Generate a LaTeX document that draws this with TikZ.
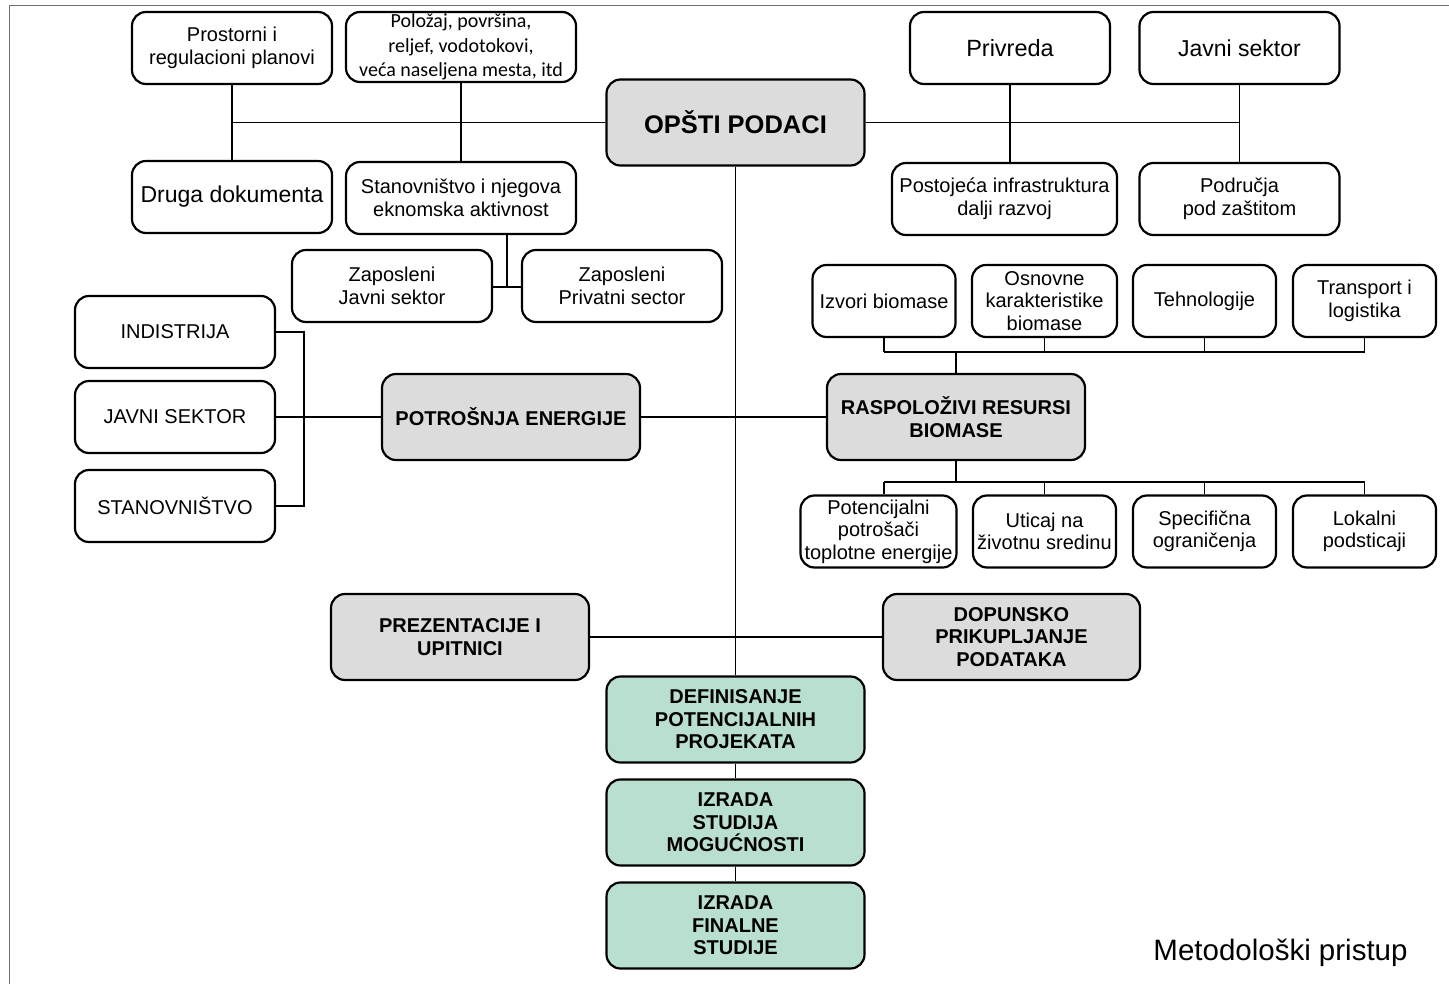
\documentclass[tikz,border=0pt]{standalone}
\usepackage{fontspec}
\setmainfont{Liberation Sans}
\newfontfamily\calibri{Carlito}
\definecolor{sivo}{HTML}{DCDCDC}
\definecolor{zeleno}{HTML}{B9E0CE}
\definecolor{ram}{HTML}{707070}
\tikzset{
  okvir/.style={draw, line width=2.2pt, rounded corners=14pt, align=center,
    inner sep=0pt, minimum width=200pt, minimum height=72pt,
    font=\fontsize{20}{23.5}\selectfont},
  glavni/.style={okvir, fill=sivo, minimum width=258pt, minimum height=86pt,
    font=\bfseries\fontsize{20}{22.5}\selectfont},
  faza/.style={glavni, fill=zeleno},
  malo/.style={okvir, minimum width=143pt, font=\fontsize{20}{22.5}\selectfont},
  veza/.style={line width=1.6pt}
}
\begin{document}
\begin{tikzpicture}[x=1pt,y=-1pt]
\useasboundingbox (0,0) rectangle (1449,985);
\draw[ram, line width=1.5pt] (9.5,984) -- (9.5,5.5) -- (1449,5.5);

% opsti podaci
\node[glavni, font=\bfseries\fontsize{25.5}{28}\selectfont] (opsti) at (735.5,122.5) {OPŠTI PODACI};
\node[okvir] (prostorni) at (232,48) {Prostorni i\\regulacioni planovi};
\node[okvir, minimum width=230pt, minimum height=70pt, font=\calibri\fontsize{20}{24.5}\selectfont] (polozaj) at (461,47) {Položaj, površina,\\reljef, vodotokovi,\\veća naseljena mesta, itd};
\node[okvir, font=\fontsize{23.5}{26}\selectfont] (privreda) at (1010,48) {Privreda};
\node[okvir, font=\fontsize{23}{26}\selectfont] (javni) at (1239.5,48) {Javni sektor};
\node[okvir, font=\fontsize{23}{26}\selectfont] (druga) at (232,197) {Druga dokumenta};
\node[okvir, minimum width=230pt, font=\fontsize{20}{23}\selectfont] (stanovnistvo) at (461,198) {Stanovništvo i njegova\\eknomska aktivnost};
\node[okvir, minimum width=225pt, font=\fontsize{20}{23}\selectfont] (infra) at (1004.5,199) {Postojeća infrastruktura\\dalji razvoj};
\node[okvir, font=\fontsize{20}{23}\selectfont] (zastita) at (1239.5,199) {Područja\\pod zaštitom};

\draw[veza] (prostorni) -- (druga);
\draw[veza] (polozaj) -- (stanovnistvo);
\draw[veza] (privreda) -- (privreda |- infra.north);
\draw[veza] (javni) -- (zastita);
\draw[veza] (prostorni |- opsti) -- (opsti);
\draw[veza] (opsti) -- (javni |- opsti);

% zaposleni
\node[okvir] (zapJavni) at (392,286) {Zaposleni\\Javni sektor};
\node[okvir] (zapPrivatni) at (622,286) {Zaposleni\\Privatni sector};
\coordinate (zapSpoj) at (507,287);
\draw[veza] (stanovnistvo.south -| zapSpoj) -- (zapSpoj);
\draw[veza] (zapJavni.east |- zapSpoj) -- (zapPrivatni.west |- zapSpoj);

% potrosnja energije
\node[glavni] (potrosnja) at (511,417) {POTROŠNJA ENERGIJE};
\node[okvir] (industrija) at (175,332) {INDISTRIJA};
\node[okvir] (javniSektor) at (175,417) {JAVNI SEKTOR};
\node[okvir] (stanovnici) at (175,506) {STANOVNIŠTVO};
\coordinate (levaSab) at (304,417);
\draw[veza] (industrija.east) -- (industrija.east -| levaSab) -- (stanovnici.east -| levaSab) -- (stanovnici.east);
\draw[veza] (javniSektor) -- (potrosnja);

% resursi biomase
\node[glavni] (resursi) at (956,417) {RASPOLOŽIVI RESURSI\\BIOMASE};
\draw[veza] (potrosnja) -- (resursi);
\node[malo] (izvori) at (884,301) {Izvori biomase};
\node[malo, minimum width=145pt] (osnovne) at (1044.5,301) {Osnovne\\karakteristike\\biomase};
\node[malo] (tehnologije) at (1204.5,301) {Tehnologije};
\node[malo] (transport) at (1364.5,301) {Transport i\\logistika};
\node[malo, minimum width=156pt] (potrosaci) at (878.5,531.5) {Potencijalni\\potrošači\\toplotne energije};
\node[malo] (uticaj) at (1044.5,531.5) {Uticaj na\\životnu sredinu};
\node[malo] (ogranicenja) at (1204.5,531.5) {Specifična\\ograničenja};
\node[malo] (podsticaji) at (1364.5,531.5) {Lokalni\\podsticaji};

\coordinate (gornjaSab) at (956,352);
\coordinate (donjaSab) at (956,482);
\draw[veza] (resursi) -- (gornjaSab);
\draw[veza] (resursi) -- (donjaSab);
\draw[veza] (izvori.south |- gornjaSab) -- (transport.south |- gornjaSab);
\draw[veza] (izvori.south |- donjaSab) -- (podsticaji.north |- donjaSab);
\foreach \gore in {izvori,osnovne,tehnologije,transport}
{
    \draw[veza] (\gore.south) -- (\gore.south |- gornjaSab);
}
\draw[veza] (izvori.south |- donjaSab) -- (izvori.south |- potrosaci.north);
\foreach \dole in {uticaj,ogranicenja,podsticaji}
{
    \draw[veza] (\dole.north |- donjaSab) -- (\dole.north);
}

% dopunski koraci
\node[glavni] (prezentacije) at (460,637) {PREZENTACIJE I\\UPITNICI};
\node[glavni, minimum width=257pt] (dopunsko) at (1011.5,637) {DOPUNSKO\\PRIKUPLJANJE\\PODATAKA};
\draw[veza] (prezentacije) -- (dopunsko);

% projekti i studije
\node[faza] (definisanje) at (735.5,719.5) {DEFINISANJE\\POTENCIJALNIH\\PROJEKATA};
\node[faza] (izvodljivost) at (735.5,822.5) {IZRADA\\STUDIJA\\MOGUĆNOSTI};
\node[faza] (finalna) at (735.5,925.5) {IZRADA\\FINALNE\\STUDIJE};
\draw[veza] (opsti) -- (definisanje);
\draw[veza] (definisanje) -- (izvodljivost);
\draw[veza] (izvodljivost) -- (finalna);

\node[anchor=base, font=\fontsize{29.5}{32}\selectfont] (naslov) at (1280.5,960) {Metodološki pristup};
\end{tikzpicture}
\end{document}
